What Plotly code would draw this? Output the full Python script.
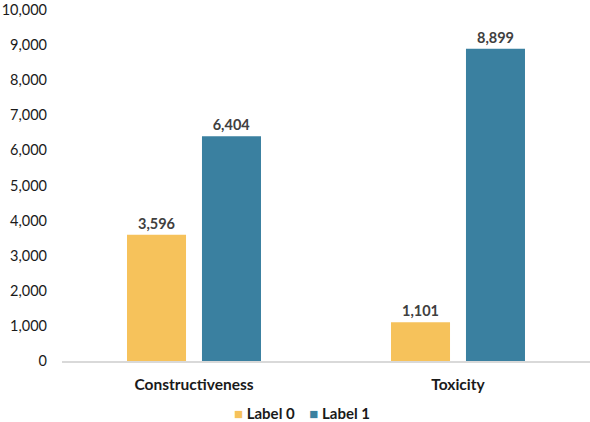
import plotly.graph_objects as go

categories = ["Constructiveness", "Toxicity"]
label0 = [3596, 1101]
label1 = [6404, 8899]
series_names = ["Label 0", "Label 1"]
colors = ["#F6C25B", "#3A80A0"]
y_ticks = list(range(0, 10001, 1000))

FONT = "Lato, 'Open Sans', sans-serif"

fig = go.Figure()
for name, vals, col in zip(series_names, [label0, label1], colors):
    fig.add_trace(go.Bar(
        x=categories, y=vals, name=name,
        marker=dict(color=col, line=dict(width=0)),
        text=[f"{v:,}" for v in vals],
        textposition="outside",
        textfont=dict(family=FONT, size=14.5, color="#404040", weight="bold"),
        cliponaxis=False,
    ))

# legend drawn as one centred line, like the Excel one (square tight to its text)
legend_txt = "&nbsp;&nbsp;&nbsp;&nbsp;".join(
    f"<span style='color:{c}'>■</span>&nbsp;{n}"
    for n, c in zip(series_names, colors)
)
fig.add_annotation(
    text=legend_txt, showarrow=False,
    xref="paper", yref="paper", x=0.4545, y=-0.147,
    xanchor="center", yanchor="middle",
    font=dict(family=FONT, size=15, color="#1a1a1a", weight="bold"),
)

fig.update_layout(
    width=590, height=422,
    margin=dict(l=62, r=0, t=10, b=61, autoexpand=False),
    barmode="group",
    bargap=0.432,
    bargroupgap=0.213,
    plot_bgcolor="white",
    paper_bgcolor="white",
    font=dict(family=FONT, size=15, color="#1a1a1a"),
    showlegend=False,
)
fig.update_yaxes(
    range=[0, 10000], tickmode="array", tickvals=y_ticks,
    ticktext=[f"{v:,}" for v in y_ticks],
    showgrid=False, zeroline=False, showline=False,
    ticklabelstandoff=14, automargin=False, ticklabeloverflow="allow",
    tickfont=dict(family=FONT, size=14.5, color="#1a1a1a"),
)
fig.update_xaxes(
    showline=True, linecolor="#d9d9d9", linewidth=2,
    showgrid=False, ticks="", automargin=False,
    ticklabelstandoff=8,
    tickfont=dict(family=FONT, size=15.5, color="#1a1a1a", weight="bold"),
)

fig.write_html("out.html", config={"displayModeBar": False},
               post_script="document.body.style.margin='0';")
